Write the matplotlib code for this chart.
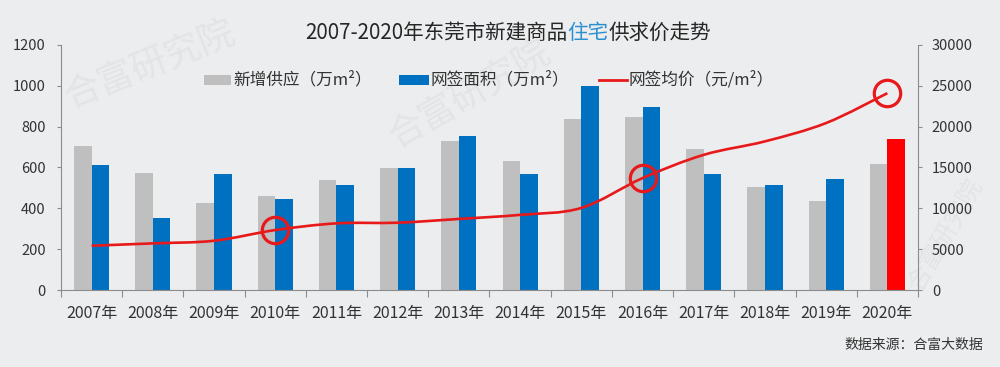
import numpy as np
import matplotlib
matplotlib.use('Agg')
import matplotlib.pyplot as plt
from matplotlib.path import Path
from matplotlib.patches import PathPatch, Rectangle
from matplotlib.lines import Line2D

# 中文字体
plt.rcParams['font.family'] = ['Noto Sans CJK SC', 'DejaVu Sans']

years = ['2007年', '2008年', '2009年', '2010年', '2011年', '2012年', '2013年',
         '2014年', '2015年', '2016年', '2017年', '2018年', '2019年', '2020年']
# 新增供应（万m²）
supply = [705, 571, 425, 460, 537, 599, 728, 633, 836, 847, 691, 506, 437, 617]
# 网签面积（万m²）
signed = [612, 353, 567, 444, 516, 599, 753, 568, 998, 896, 567, 516, 544, 740]
# 网签均价（元/m²）
price = [5420, 5710, 6030, 7340, 8160, 8240, 8700, 9200, 10050, 13700,
         16550, 18200, 20450, 24100]
circled = ['2010年', '2016年', '2020年']

bg = '#ecedee'
gray = '#bfbfbf'
blue = '#0070c0'
red = '#ff0000'
line_red = '#e8191b'
axis_c = '#8c8c8c'
txt_c = '#333333'


def smooth_path(xs, ys):
    # Excel风格的平滑曲线（贝塞尔）
    n = len(xs)
    verts = [(xs[0], ys[0])]
    codes = [Path.MOVETO]
    for i in range(n - 1):
        x0, y0 = (xs[i - 1], ys[i - 1]) if i > 0 else (xs[i], ys[i])
        x1, y1 = xs[i], ys[i]
        x2, y2 = xs[i + 1], ys[i + 1]
        x3, y3 = (xs[i + 2], ys[i + 2]) if i + 2 < n else (x2, y2)
        c1 = (x1 + (x2 - x0) / 6, y1 + (y2 - y0) / 6)
        c2 = (x2 - (x3 - x1) / 6, y2 - (y3 - y1) / 6)
        verts += [c1, c2, (x2, y2)]
        codes += [Path.CURVE4] * 3
    return Path(verts, codes)


fig = plt.figure(figsize=(10, 3.67), dpi=100)
fig.patch.set_facecolor(bg)

# 水印（很淡，放在坐标轴后面）
for (wx, wy, rot, fs) in [(0.15, 0.82, 22, 26), (0.47, 0.74, 30, 26),
                          (0.945, 0.36, 60, 18)]:
    fig.text(wx, wy, '合富研究院', fontsize=fs, rotation=rot, color='#e3e4e5',
             ha='center', va='center', zorder=-1)

ax = fig.add_axes([0.061, 0.2098, 0.857, 0.6676])
ax.patch.set_alpha(0)
x = np.arange(len(years))
w = 0.287

ax.bar(x - w / 2, supply, width=w, color=gray, zorder=2)
bar_colors = [blue] * (len(years) - 1) + [red]
ax.bar(x + w / 2, signed, width=w, color=bar_colors, zorder=2)

ax.set_xlim(-0.5, len(years) - 0.5)
ax.set_ylim(0, 1200)
ax.set_yticks(np.arange(0, 1201, 200))
ax.set_xticks(np.arange(-0.5, len(years), 1))
ax.set_xticklabels([])
ax.set_xticks(x, minor=True)
ax.set_xticklabels(years, minor=True)
ax.tick_params(axis='x', which='major', length=5, color=axis_c, direction='out')
ax.tick_params(axis='x', which='minor', length=0, pad=11, labelsize=11.5,
               labelcolor=txt_c)
ax.tick_params(axis='y', length=3, color=axis_c, pad=8, labelsize=10.5,
               labelcolor=txt_c)
for s in ['top', 'right']:
    ax.spines[s].set_visible(False)
for s in ['left', 'bottom']:
    ax.spines[s].set_color(axis_c)

ax2 = ax.twinx()
ax2.set_ylim(0, 30000)
ax2.set_yticks(np.arange(0, 30001, 5000))
ax2.tick_params(axis='y', length=3, color=axis_c, pad=7, labelsize=10.5,
                labelcolor=txt_c)
for s in ['top', 'left', 'bottom']:
    ax2.spines[s].set_visible(False)
ax2.spines['right'].set_color(axis_c)

ax2.add_patch(PathPatch(smooth_path(x.astype(float), np.array(price, float)),
                        facecolor='none', edgecolor=line_red, lw=1.9,
                        zorder=3))
idx = [years.index(c) for c in circled]
ax2.plot(x[idx], np.array(price)[idx], 'o', mfc='none', mec=line_red,
         ms=19, mew=2.3, zorder=4)

# 标题
ty = 1 - 33 / 367
t1 = fig.text(0.3, ty, '2007-2020年东莞市新建商品', fontsize=14.8,
              color='#262626', ha='left', va='center')
t2 = fig.text(0, 0, '住宅', fontsize=14.8, color='#2b8fd0', ha='left',
              va='bottom')
t3 = fig.text(0, 0, '供求价走势', fontsize=14.8, color='#262626',
              ha='left', va='bottom')
fig.canvas.draw()
r = fig.canvas.get_renderer()
b1 = t1.get_window_extent(r)
b2 = t2.get_window_extent(r)
b3 = t3.get_window_extent(r)
total = b1.width + b2.width + b3.width
x0 = 508 - total / 2
t1.set_x(x0 / 1000)
t2.set_position(((x0 + b1.width) / 1000, b1.y0 / 367))
t3.set_position(((x0 + b1.width + b2.width) / 1000, b1.y0 / 367))

# 图例
ly = 1 - 80 / 367
items = [('patch', gray, 204, 231, 233, '新增供应（万m²）'),
         ('patch', blue, 399, 429, 431, '网签面积（万m²）'),
         ('line', line_red, 599, 627, 629, '网签均价（元/m²）')]
for kind, c, xa, xb, xt, label in items:
    if kind == 'patch':
        fig.patches.append(Rectangle((xa / 1000, ly - 4.5 / 367), (xb - xa) / 1000,
                                     9 / 367, transform=fig.transFigure,
                                     facecolor=c, edgecolor='none'))
    else:
        fig.lines.append(Line2D([xa / 1000, xb / 1000], [ly, ly],
                                transform=fig.transFigure, color=c, lw=2))
    fig.text(xt / 1000, ly, label, fontsize=12, color=txt_c, ha='left',
             va='center')

fig.text(0.983, 1 - 345 / 367, '数据来源：合富大数据', fontsize=10,
         color=txt_c, ha='right', va='center')

fig.savefig('out.png', dpi=100, facecolor=fig.get_facecolor())
